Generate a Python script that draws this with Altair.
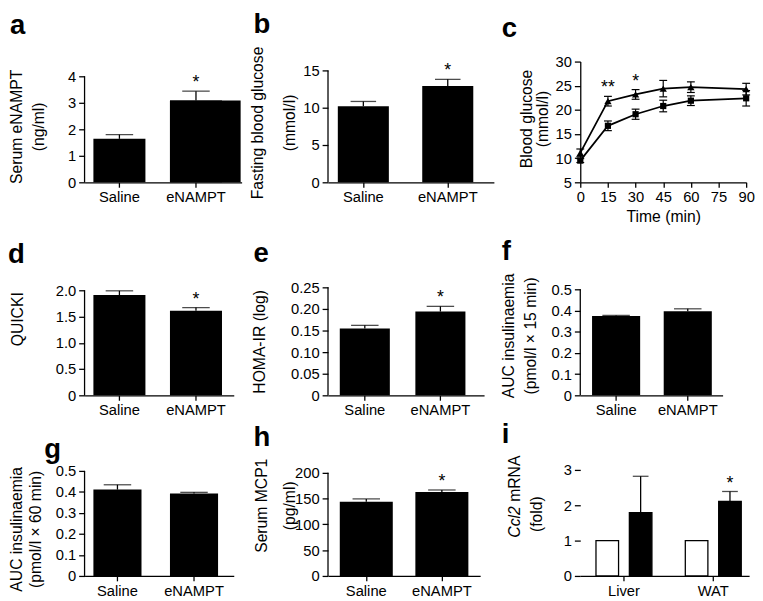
import altair as alt
import pandas as pd

FONT = "Liberation Sans"
INK = "black"
LW = 1.3
LETTER_SIZE = 28

# ---------------- data ----------------
groups = ["Saline", "eNAMPT"]

serum_enampt = [1.64, 3.09]
serum_enampt_err = [0.16, 0.35]
serum_enampt_sig = ["", "*"]
serum_enampt_ticks = [0, 1, 2, 3, 4]

fasting_glucose = [10.18, 12.92]
fasting_glucose_err = [0.66, 0.88]
fasting_glucose_sig = ["", "*"]
fasting_glucose_ticks = [0, 5, 10, 15]

time_min = [0, 15, 30, 45, 60, 90]
glucose_saline = [9.5, 16.7, 19.1, 20.8, 21.9, 22.4]
glucose_saline_err = [0.4, 1.0, 1.05, 1.2, 1.0, 1.6]
glucose_enampt = [11.1, 21.8, 23.2, 24.4, 24.7, 24.3]
glucose_enampt_err = [0.8, 1.0, 1.0, 1.7, 1.1, 1.2]
glucose_sig = ["", "**", "*", "", "", ""]
glucose_ticks = [5, 10, 15, 20, 25, 30]
time_ticks = [0, 15, 30, 45, 60, 75, 90]

quicki = [1.91, 1.61]
quicki_err = [0.08, 0.06]
quicki_sig = ["", "*"]
quicki_ticks = [0, 0.5, 1.0, 1.5, 2.0]

homa_ir = [0.155, 0.194]
homa_ir_err = [0.007, 0.012]
homa_ir_sig = ["", "*"]
homa_ir_ticks = [0, 0.05, 0.10, 0.15, 0.20, 0.25]

auc15 = [0.374, 0.396]
auc15_err = [0.003, 0.012]
auc15_sig = ["", ""]
auc_ticks = [0, 0.1, 0.2, 0.3, 0.4, 0.5]

auc60 = [0.411, 0.392]
auc60_err = [0.023, 0.006]
auc60_sig = ["", ""]

mcp1 = [143.8, 162.9]
mcp1_err = [5.7, 3.9]
mcp1_sig = ["", "*"]
mcp1_ticks = [0, 50, 100, 150, 200]

tissues = ["Liver", "WAT"]
ccl2_saline = [1.0, 1.0]
ccl2_enampt = [1.79, 2.11]
ccl2_enampt_err = [1.03, 0.28]
ccl2_sig = ["", "*"]
ccl2_ticks = [0, 1, 2, 3]
ccl2_title = ["Ccl2", "mRNA", "(fold)"]


# ---------------- helpers ----------------
def y_axis(ticks, dec, title, tx, ty, lh, domain=False):
    kw = dict(values=ticks, domain=domain, tickSize=6, labelPadding=3, title=title,
              titleAngle=270, titleAlign="center", titleBaseline="middle",
              titleLineHeight=lh)
    if title is not None:
        kw["titleX"] = tx
        kw["titleY"] = ty
    if dec:
        kw["labelExpr"] = f"datum.value == 0 ? '0' : format(datum.value, '.{dec}f')"
    return alt.Axis(**kw)


def x_band_axis():
    return alt.Axis(title=None, labelAngle=0, tickSize=5, labelPadding=3, bandPosition=0.5)


def band_scale(domain, W, b0, bw, step):
    pi = 1 - bw / step
    outer = W - step - bw
    po = outer / (2 * step)
    align = min(max(b0 / outer, 0.0), 1.0)
    return alt.Scale(domain=domain, paddingInner=pi, paddingOuter=po, align=align)


def label_text(text, dx, dy, size=LETTER_SIZE, weight="bold", style="normal", angle=0,
               align="left", baseline="alphabetic"):
    # annotation text (panel letter / axis title piece) placed relative to the plot area
    return alt.Chart(pd.DataFrame({"t": [text]})).mark_text(
        font=FONT, fontSize=size, fontWeight=weight, fontStyle=style, color=INK,
        align=align, baseline=baseline, angle=angle).encode(
        text="t:N", x=alt.value(dx), y=alt.value(dy))


def panel_letter(letter, dx, base_dy):
    # base_dy is the wanted baseline; a "top" baseline keeps the text bounds tight
    return label_text(letter, dx, base_dy - 0.79 * LETTER_SIZE, baseline="top")


def star_mark(chart):
    return chart.mark_text(font=FONT, fontSize=18, color=INK, baseline="alphabetic", dy=-3)


def bar_panel(letter, vals, errs, sig, ticks, dec, title, W, H, top_px, b0, bw, step,
              cap, tx, ty, lh, ldx, ldy, wide=0):
    df = pd.DataFrame({"group": groups, "value": vals, "err": errs, "sig": sig})
    df["hi"] = df["value"] + df["err"]
    top = ticks[-1]
    ext = top * H / (H - top_px)
    ysc = alt.Scale(domain=[ticks[0], ext], nice=False, zero=False)
    yax = y_axis(ticks, dec, title, tx, ty, lh)
    xenc = alt.X("group:N", sort=groups, scale=band_scale(groups, W, b0, bw, step),
                 axis=x_band_axis())
    base = alt.Chart(df).encode(x=xenc)
    layers = [base.mark_bar(color=INK).encode(y=alt.Y("value:Q", scale=ysc, axis=yax))]
    if wide:
        layers.append(
            base.transform_filter(alt.datum.group == groups[1])
            .mark_bar(color=INK, width=bw + wide, xOffset=wide / 2)
            .encode(y=alt.Y("value:Q", scale=ysc, axis=yax)))
    layers += [
        base.mark_rule(color=INK, strokeWidth=LW)
        .encode(y=alt.Y("value:Q", scale=ysc, axis=yax), y2="hi:Q"),
        base.mark_tick(color=INK, thickness=LW, size=cap)
        .encode(y=alt.Y("hi:Q", scale=ysc, axis=yax)),
        star_mark(base).encode(y=alt.Y("hi:Q", scale=ysc, axis=yax), text="sig:N"),
    ]
    axis_df = pd.DataFrame({"lo": [ticks[0]], "hi": [top]})
    layers.append(
        alt.Chart(axis_df).mark_rule(color=INK, strokeWidth=LW)
        .encode(x=alt.value(0), y=alt.Y("lo:Q", scale=ysc, axis=yax), y2="hi:Q"))
    layers.append(panel_letter(letter, ldx, ldy))
    return alt.layer(*layers).properties(width=W, height=H)


# ---------------- panels ----------------
H1, H2, H3 = 123, 141, 108

pa = bar_panel("a", serum_enampt, serum_enampt_err, serum_enampt_sig, serum_enampt_ticks, 0,
               ["Serum eNAMPT", "(ng/ml)"], 160, H1, 15, 9, 53, 78, 28,
               -69, 66, 22, -76, -28, wide=19)
pb = bar_panel("b", fasting_glucose, fasting_glucose_err, fasting_glucose_sig,
               fasting_glucose_ticks, 0, ["Fasting blood glucose", "(mmol/l)"],
               169, H1, 9, 10, 52, 86, 26, -72, 62, 33, -76, -29)

# panel c: glucose tolerance curve
rows = []
for g, vals, errs, sigs in [("Saline", glucose_saline, glucose_saline_err, [""] * len(time_min)),
                            ("eNAMPT", glucose_enampt, glucose_enampt_err, glucose_sig)]:
    for t, v, e, s in zip(time_min, vals, errs, sigs):
        rows.append(dict(time=t, group=g, value=v, lo=v - e, hi=v + e, sig=s))
dfc = pd.DataFrame(rows)
xsc_c = alt.Scale(domain=[time_ticks[0], time_ticks[-1]], nice=False)
ysc_c = alt.Scale(domain=[glucose_ticks[0], glucose_ticks[-1]], nice=False, zero=False)
xax_c = alt.Axis(values=time_ticks, title="Time (min)", tickSize=5, labelPadding=3,
                 titlePadding=4, labelFlush=False)
yax_c = y_axis(glucose_ticks, 0, ["Blood glucose", "(mmol/l)"], -55, 58, 17, domain=True)
Xc = alt.X("time:Q", scale=xsc_c, axis=xax_c)
cbase = alt.Chart(dfc)
c_line = cbase.mark_line(color=INK, strokeWidth=1.8).encode(
    x=Xc, y=alt.Y("value:Q", scale=ysc_c, axis=yax_c), detail="group:N")
c_err = cbase.mark_rule(color=INK, strokeWidth=1.2).encode(
    x=Xc, y=alt.Y("lo:Q", scale=ysc_c, axis=yax_c), y2="hi:Q")
c_cap_hi = cbase.mark_rule(color=INK, strokeWidth=1.2, xOffset=-4, x2Offset=4).encode(
    x=Xc, x2="time:Q", y=alt.Y("hi:Q", scale=ysc_c, axis=yax_c))
c_cap_lo = cbase.mark_rule(color=INK, strokeWidth=1.2, xOffset=-4, x2Offset=4).encode(
    x=Xc, x2="time:Q", y=alt.Y("lo:Q", scale=ysc_c, axis=yax_c))
c_sq = cbase.transform_filter(alt.datum.group == groups[0]).mark_point(
    shape="square", size=40, filled=True, color=INK, opacity=1).encode(
    x=Xc, y=alt.Y("value:Q", scale=ysc_c, axis=yax_c))
c_tri = cbase.transform_filter(alt.datum.group == groups[1]).mark_point(
    shape="triangle-up", size=55, filled=True, color=INK, opacity=1).encode(
    x=Xc, y=alt.Y("value:Q", scale=ysc_c, axis=yax_c))
c_star = star_mark(cbase.transform_filter(alt.datum.sig != "")).encode(
    x=Xc, y=alt.Y("hi:Q", scale=ysc_c, axis=yax_c), text="sig:N")
pc = alt.layer(c_line, c_err, c_cap_hi, c_cap_lo, c_sq, c_tri, c_star,
               panel_letter("c", -80, -25)).properties(width=169, height=H1)

pd_ = bar_panel("d", quicki, quicki_err, quicki_sig, quicki_ticks, 1, "QUICKI",
                152, H2, 34, 9, 53, 78, 28, -68, 63, 20, -78, 6)
pe = bar_panel("e", homa_ir, homa_ir_err, homa_ir_sig, homa_ir_ticks, 2, "HOMA-IR (log)",
               159, H2, 31, 12, 51, 77, 28, -70, 86, 20, -76, 5)
pf = bar_panel("f", auc15, auc15_err, auc15_sig, auc_ticks, 1,
               ["AUC insulinaemia", "(pmol/l × 15 min)"],
               145, H2, 33, 12, 49, 73, 28, -73, 80, 22, -80, 3)

pg = bar_panel("g", auc60, auc60_err, auc60_sig, auc_ticks, 1,
               ["AUC insulinaemia", "(pmol/l × 60 min)"],
               152, H3, 1, 9, 49, 78, 28, -69, 60, 19, -41, -12)
ph = bar_panel("h", mcp1, mcp1_err, mcp1_sig, mcp1_ticks, 0, ["Serum MCP1", "(pg/ml)"],
               155, H3, 3, 12, 54, 77, 28, -68, 36, 29, -76, -24)

# panel i: grouped bars
rows_i = []
for t, s, e, ee, sg in zip(tissues, ccl2_saline, ccl2_enampt, ccl2_enampt_err, ccl2_sig):
    rows_i.append(dict(tissue=t, group=groups[0], value=s, err=0.0, sig=""))
    rows_i.append(dict(tissue=t, group=groups[1], value=e, err=ee, sig=sg))
dfi = pd.DataFrame(rows_i)
dfi["hi"] = dfi["value"] + dfi["err"]
Wi = 172
ysc_i = alt.Scale(domain=[ccl2_ticks[0], ccl2_ticks[-1]], nice=False, zero=False)
yax_i = y_axis(ccl2_ticks, 0, None, 0, 0, 20)
Xi = alt.X("tissue:N", sort=tissues, scale=band_scale(tissues, Wi, 16, 57, 91),
           axis=x_band_axis())
XOi = alt.XOffset("group:N", sort=groups,
                  scale=alt.Scale(domain=groups, paddingInner=1 - 23 / 34, paddingOuter=0))
ibase = alt.Chart(dfi).encode(x=Xi, xOffset=XOi)
i_bars = ibase.mark_bar(stroke=INK, strokeWidth=LW).encode(
    y=alt.Y("value:Q", scale=ysc_i, axis=yax_i),
    fill=alt.Fill("group:N", scale=alt.Scale(domain=groups, range=["white", INK]), legend=None))
ierr = ibase.transform_filter(alt.datum.err > 0)
i_err = ierr.mark_rule(color=INK, strokeWidth=LW).encode(
    y=alt.Y("value:Q", scale=ysc_i, axis=yax_i), y2="hi:Q")
i_cap = ierr.mark_tick(color=INK, thickness=LW, size=16).encode(
    y=alt.Y("hi:Q", scale=ysc_i, axis=yax_i))
i_star = star_mark(ierr).encode(y=alt.Y("hi:Q", scale=ysc_i, axis=yax_i), text="sig:N")
# y-axis title with italic gene name
i_t1 = label_text(ccl2_title[0], -66, 69, size=16, weight="normal", style="italic",
                  angle=270, baseline="middle")
i_t2 = label_text(ccl2_title[1], -66, 32.5, size=16, weight="normal",
                  angle=270, baseline="middle")
i_t3 = label_text(ccl2_title[2], -44, 45, size=16, weight="normal",
                  angle=270, align="center", baseline="middle")
pi_ = alt.layer(i_bars, i_err, i_cap, i_star, i_t1, i_t2, i_t3,
                panel_letter("i", -80, -27)).properties(width=Wi, height=H3)

chart = (
    alt.concat(pa, pb, pc, pd_, pe, pf, pg, ph, pi_, columns=3,
               spacing={"row": 76, "column": 88}, bounds="flush")
    .properties(padding={"top": -3, "left": 0, "right": 0, "bottom": 0})
    .configure_view(stroke=None)
    .configure_axis(domainColor=INK, domainWidth=LW, tickColor=INK, tickWidth=LW,
                    labelFont=FONT, labelFontSize=15, labelColor=INK,
                    titleFont=FONT, titleFontSize=16, titleFontWeight="normal",
                    titleColor=INK, grid=False)
    .configure_text(font=FONT)
)

chart.save("out.html", embed_options={"renderer": "svg", "actions": False})
